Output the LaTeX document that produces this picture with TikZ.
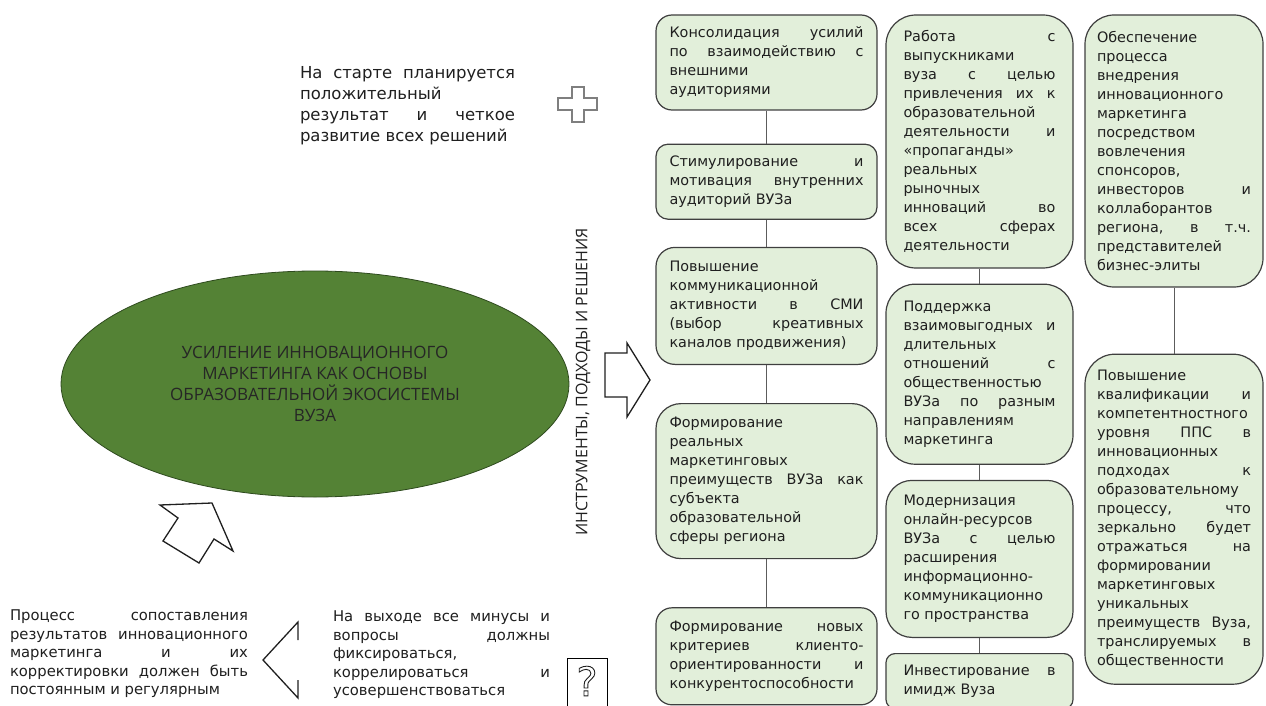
\documentclass[tikz,border=0pt]{standalone}
\usepackage{fontspec}
\setmainfont{DejaVu Sans}
\newfontfamily\headfont{Open Sans}
\usetikzlibrary{shapes.geometric, positioning}
\definecolor{toolfill}{HTML}{E2EFDA}
\definecolor{toolline}{HTML}{3F3F3F}
\definecolor{corefill}{HTML}{548235}
\definecolor{coreline}{HTML}{2E4A1E}
\definecolor{inkgray}{HTML}{1F1F1F}
\definecolor{crossgray}{HTML}{7F7F7F}
\newcommand{\justfont}[2]{\fontsize{#1}{#2}\selectfont\tolerance=10000 \hyphenpenalty=10000 \exhyphenpenalty=10000\relax}
\newcommand{\hollow}[1]{\special{pdf:literal direct 1 Tr 0.9 w}#1\special{pdf:literal direct 0 Tr}}
\frenchspacing

\begin{document}
\begin{tikzpicture}[x=1pt, y=-1pt,
        tool/.style={rectangle, draw=toolline, fill=toolfill, line width=1.2pt, align=justify, text=inkgray, font={\justfont{14.4}{19}}},
        col1/.style={tool, text width=194pt, inner xsep=13.5pt, minimum width=221pt},
        col2/.style={tool, text width=152pt, inner xsep=17.5pt, minimum width=187pt},
        col3/.style={tool, text width=154pt, inner xsep=12pt, minimum width=178pt},
        link/.style={draw=toolline!85, line width=1pt},
        note/.style={align=justify, text=inkgray, inner sep=0pt, font={\justfont{14.8}{18.5}}},
        block/.style={draw=inkgray, fill=white, line width=1.3pt, line join=miter}
    ]
        \useasboundingbox (0,0) rectangle (1266,706);

        \node[col1, minimum height=95pt, rounded corners=16pt] (konsol) at (766.5,62.5) {Консолидация усилий\linebreak по взаимодействию с\linebreak внешними\linebreak аудиториями};
        \node[col1, minimum height=75pt, rounded corners=12pt, below=33pt of konsol] (stimul) {Стимулирование и\linebreak мотивация внутренних\linebreak аудиторий ВУЗа};
        \node[col1, minimum height=117pt, rounded corners=19pt, below=27pt of stimul] (smi) {Повышение\linebreak коммуникационной\linebreak активности в СМИ\linebreak (выбор креативных\linebreak каналов продвижения)};
        \node[col1, minimum height=155pt, rounded corners=25pt, below=38pt of smi] (preim) {Формирование\linebreak реальных\linebreak маркетинговых\linebreak преимуществ ВУЗа как\linebreak субъекта\linebreak образовательной\linebreak сферы региона};
        \node[col1, minimum height=97pt, rounded corners=16pt, below=48pt of preim] (krit) {Формирование новых\linebreak критериев клиенто-\linebreak ориентированности и\linebreak конкурентоспособности};

        \node[col2, minimum height=253pt, rounded corners=30pt] (vypusk) at (979.5,141.5) {Работа с\linebreak выпускниками\linebreak вуза с целью\linebreak привлечения их к\linebreak образовательной\linebreak деятельности и\linebreak «пропаганды»\linebreak реальных\linebreak рыночных\linebreak инноваций во\linebreak всех сферах\linebreak деятельности};
        \node[col2, minimum height=180pt, rounded corners=29pt, below=15pt of vypusk] (otnosh) {Поддержка\linebreak взаимовыгодных и\linebreak длительных\linebreak отношений с\linebreak общественностью\linebreak ВУЗа по разным\linebreak направлениям\linebreak маркетинга};
        \node[col2, minimum height=157pt, rounded corners=26pt, below=15pt of otnosh] (online) {Модернизация\linebreak онлайн-ресурсов\linebreak ВУЗа с целью\linebreak расширения\linebreak информационно-\linebreak коммуникационно\linebreak го пространства};
        \node[col2, minimum height=55pt, rounded corners=9pt, below=15pt of online] (imidzh) {Инвестирование в\linebreak имидж Вуза};

        \node[col3, minimum height=272pt, rounded corners=29pt] (sponsor) at (1174,151) {Обеспечение\linebreak процесса\linebreak внедрения\linebreak инновационного\linebreak маркетинга\linebreak посредством\linebreak вовлечения\linebreak спонсоров,\linebreak инвесторов и\linebreak коллаборантов\linebreak региона, в т.ч.\linebreak представителей\linebreak бизнес-элиты};
        \node[col3, minimum height=330pt, rounded corners=30pt, below=66pt of sponsor] (pps) {Повышение\linebreak квалификации и\linebreak компетентностного\linebreak уровня ППС в\linebreak инновационных\linebreak подходах к\linebreak образовательному\linebreak процессу, что\linebreak зеркально будет\linebreak отражаться на\linebreak формировании\linebreak маркетинговых\linebreak уникальных\linebreak преимуществ Вуза,\linebreak транслируемых в\linebreak общественности};

        \foreach \a/\b in {konsol/stimul, stimul/smi, smi/preim, preim/krit, vypusk/otnosh, otnosh/online, online/imidzh, sponsor/pps}
            \draw[link] (\a) -- (\b);

        \node[ellipse, draw=coreline, fill=corefill, line width=0.8pt, minimum width=508pt, minimum height=226pt, align=center, text=black!85, font=\headfont\fontsize{17}{21}\selectfont] (core) at (315,384) {УСИЛЕНИЕ ИННОВАЦИОННОГО\\МАРКЕТИНГА КАК ОСНОВЫ\\ОБРАЗОВАТЕЛЬНОЙ ЭКОСИСТЕМЫ\\ВУЗА};
        \node[rotate=90, text=inkgray, font=\headfont\fontsize{16}{19}\selectfont] (tools) at (583,382) {ИНСТРУМЕНТЫ, ПОДХОДЫ И РЕШЕНИЯ};
        \draw[block] (605,353) -- (627,353) -- (627,343) -- (650,380) -- (627,417) -- (627,397) -- (605,397) -- cycle;

        \node[note, text width=215pt, font={\justfont{16.5}{21}}] (start) at (407.5,106) {На старте планируется\linebreak положительный\linebreak результат и четкое\linebreak развитие всех решений};
        \draw[draw=crossgray, line width=1.5pt, fill=white] (572,87) -- (584,87) -- (584,98) -- (597,98) -- (597,110) -- (584,110) -- (584,122) -- (572,122) -- (572,110) -- (558,110) -- (558,98) -- (572,98) -- cycle;

        \draw[block] (160,505) -- (212,503) -- (233,551) -- (214,539) -- (199,563) -- (163,541) -- (178,518) -- cycle;

        \node[note, text width=238pt] (process) at (129,654) {Процесс сопоставления\linebreak результатов инновационного\linebreak маркетинга и их\linebreak корректировки должен быть\linebreak постоянным и регулярным};
        \draw[block, fill=none] (298,640) -- (298,622) -- (263,660) -- (298,698) -- (298,680);
        \node[note, text width=217pt] (finish) at (441.5,655) {На выходе все минусы и\linebreak вопросы должны\linebreak фиксироваться,\linebreak коррелироваться и\linebreak усовершенствоваться};
        \draw[draw=black, line width=1pt] (567,712) -- (567,658) -- (607,658) -- (607,712);
        \node[inner sep=0pt, text=inkgray, font=\fontsize{40}{40}\selectfont] (quest) at (587,681) {\hollow{?}};
    \end{tikzpicture}
\end{document}
